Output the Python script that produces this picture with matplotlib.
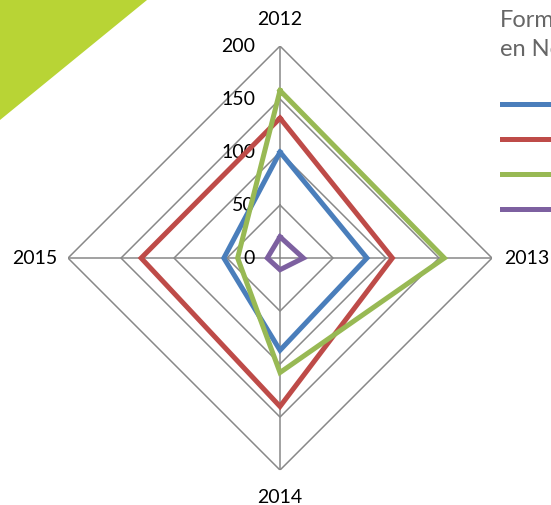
import numpy as np
import matplotlib.pyplot as plt
from matplotlib.patches import Polygon
from matplotlib.transforms import offset_copy

# radar data
years = ['2012', '2013', '2014', '2015']
serie1 = [100, 82, 87, 53]
serie2 = [132, 106, 140, 131]
serie3 = [158, 155, 108, 40]
serie4 = [20, 22, 11, 12]
series_names = ['Série 1', 'Série 2', 'Série 3', 'Série 4']
colors = ['#4A7EBB', '#BE4B48', '#98B954', '#7D60A0']
rings = [50, 100, 150, 200]

fig = plt.figure(figsize=(5.51, 5.05), dpi=100)

# green corner decoration
fig.patches.append(Polygon([[0, 1], [147/551, 1], [0, 1 - 120/505]], closed=True,
                           transform=fig.transFigure, facecolor='#B8D435',
                           edgecolor='none', zorder=0))

ax = fig.add_axes([0.1234, 0.0692, 0.7696, 0.8396], projection='polar')
ax.set_theta_zero_location('N')
ax.set_theta_direction(-1)
ax.set_ylim(0, 200)
ax.grid(False)
ax.set_xticks([])
ax.set_yticks([])
ax.spines['polar'].set_visible(False)
ax.patch.set_alpha(0)

angles = np.linspace(0, 2 * np.pi, len(years), endpoint=False)
closed = np.append(angles, angles[0])

# diamond grid
for r in rings:
    ax.plot(closed, [r] * (len(years) + 1), color='#888888', lw=1.1, zorder=1)
for a in angles:
    ax.plot([a, a], [0, 200], color='#888888', lw=1.1, zorder=1)

handles = []
for vals, c, name in zip([serie1, serie2, serie3, serie4], colors, series_names):
    h, = ax.plot(closed, vals + vals[:1], color=c, lw=3.6, label=name, zorder=3,
                 solid_joinstyle='miter')
    handles.append(h)

font = 'Lato'
# radial labels
for v in [0] + rings:
    tr = offset_copy(ax.transData, fig=fig, x=-25, y=0, units='dots')
    ax.text(0, v, str(v), transform=tr, ha='right', va='center', fontsize=14,
            family=font, zorder=2)

# category labels
offs = [(0, 27, 'center'), (12, 0, 'left'), (0, -27, 'center'), (-11, 0, 'right')]
for a, lab, (dx, dy, ha) in zip(angles, years, offs):
    tr = offset_copy(ax.transData, fig=fig, x=dx, y=dy, units='dots')
    ax.text(a, 200, lab, transform=tr, ha=ha, va='center', fontsize=14, family=font)

# legend (runs off the right edge like the original)
fig.text(500/551, 1 - 10/505, 'Formations\nen Nombre', ha='left', va='top',
         fontsize=17, family=font, color='#666666', linespacing=1.45)
leg = fig.legend(handles=handles, loc='upper left', bbox_to_anchor=(502/551, 1 - 97/505),
                 frameon=False, handlelength=5, borderpad=0, borderaxespad=0,
                 labelspacing=1.05, prop={'family': font, 'size': 13})
for t in leg.get_texts():
    t.set_color('#666666')

fig.savefig('out.png', dpi=100)
